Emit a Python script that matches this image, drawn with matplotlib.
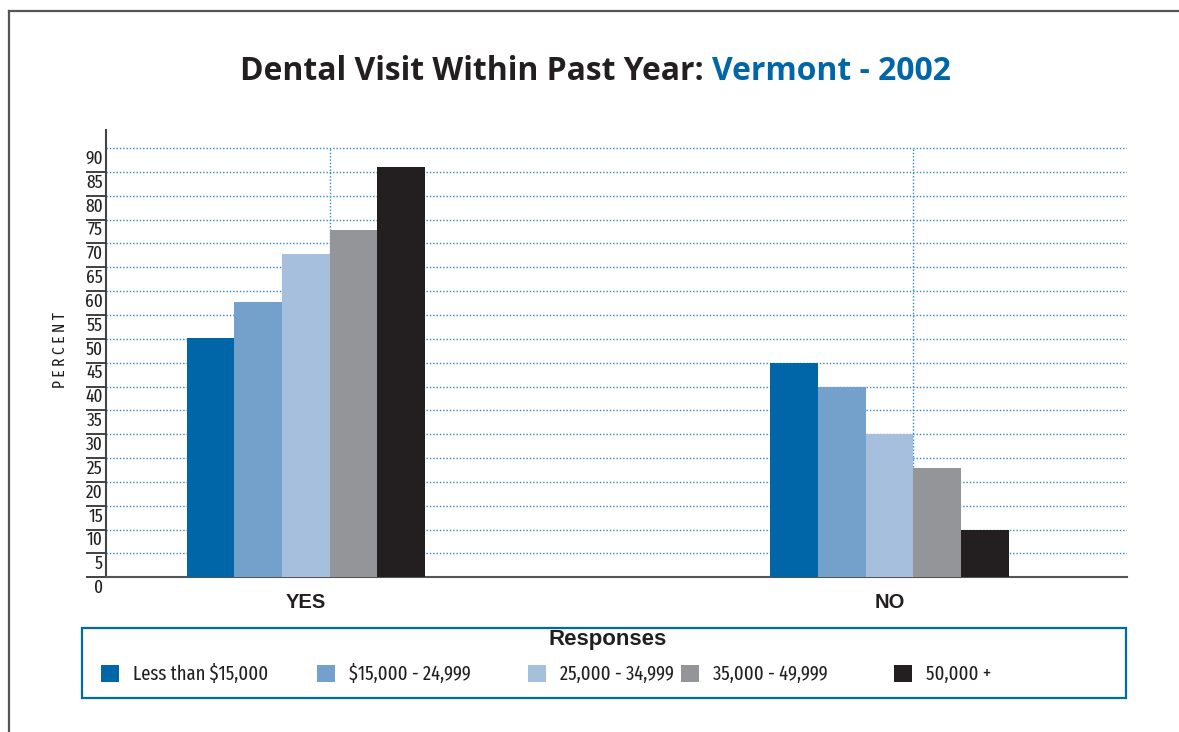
import matplotlib
matplotlib.use("Agg")
import matplotlib.pyplot as plt
from matplotlib import font_manager as fm
from matplotlib.patches import Rectangle
from matplotlib.lines import Line2D
from matplotlib.textpath import TextPath

# ---- data ----
responses = ["YES", "NO"]
income_groups = ["Less than $15,000", "$15,000 - 24,999", "25,000 - 34,999",
                 "35,000 - 49,999", "50,000 +"]
pct_less_15k = [50.2, 45.0]
pct_15_25k = [57.8, 40.0]
pct_25_35k = [67.8, 30.0]
pct_35_50k = [72.9, 23.0]
pct_50k_plus = [86.0, 10.0]
y_ticks = list(range(0, 95, 5))

series = [pct_less_15k, pct_15_25k, pct_25_35k, pct_35_50k, pct_50k_plus]
colors = ["#0066a8", "#74a0cc", "#a6bfdd", "#939598", "#231f20"]


# pick the regular face whose width-to-height ratio is closest to a
# condensed grotesque (about 6.5 em for "Less than $15,000")
def width_per_em(fname):
    try:
        p = fm.FontProperties(fname=fname)
        return TextPath((0, 0), "Less than $15,000", size=1, prop=p).get_extents().width
    except Exception:
        return None


best = None
for f in fm.fontManager.ttflist:
    tag = (f.name + " " + str(f.stretch) + " " + f.fname).lower()
    if f.style != "normal" or f.weight not in (400, "normal", "regular"):
        continue
    if not any(k in tag for k in ("condensed", "narrow", "compressed")):
        continue
    w = width_per_em(f.fname)
    if w is None:
        continue
    score = abs(w - 6.5)
    if best is None or score < best[0]:
        best = (score, f.fname)

if best is not None:
    def small_font(size):
        return fm.FontProperties(fname=best[1], size=size)
else:
    def small_font(size):
        return fm.FontProperties(family=["Liberation Sans", "DejaVu Sans"], size=size)

BOLD = ["Liberation Sans", "DejaVu Sans"]

W, H = 1179, 732
fig = plt.figure(figsize=(W / 100, H / 100), dpi=100)
renderer = fig.canvas.get_renderer()


def fx(px):
    return px / W


def fy(py):
    return 1 - py / H


def fit_size(text, width_px, props):
    # font size that makes `text` span width_px
    t = fig.text(0, 0, text, fontproperties=props)
    w = t.get_window_extent(renderer).width
    t.remove()
    return props.get_size() * width_px / w


SMALL = fit_size("Less than $15,000", 135, small_font(14))

# plot area: spine at x=105.7, right end 1127, zero line at y=577.3, top 130
ax = fig.add_axes([fx(105.7), fy(577.3), fx(1127) - fx(105.7), fy(130) - fy(577.3)])
ax.set_xlim(-0.343, 1.407)
ax.set_ylim(0, 93.8)

bar_w = 0.0816
for i, (vals, col) in enumerate(zip(series, colors)):
    xs = [g + (i - 2) * bar_w for g in range(len(responses))]
    ax.bar(xs, vals, width=bar_w, color=col, zorder=3, linewidth=0)

# dotted grid
grid_col = "#2f86c8"
ax.hlines(y_ticks[1:], -0.343, 1.407, colors=grid_col, linewidth=1.0,
          linestyles=(0, (1, 1.4)), zorder=1)
ax.vlines([g + bar_w / 2 for g in range(len(responses))], 0, y_ticks[-1],
          colors=grid_col, linewidth=1.0, linestyles=(0, (1, 1.4)), zorder=1)

for s in ["top", "right"]:
    ax.spines[s].set_visible(False)
ax.spines["left"].set_color("#444444")
ax.spines["left"].set_linewidth(1.5)
ax.spines["bottom"].set_color("#555555")
ax.spines["bottom"].set_linewidth(1.5)

# y ticks: short lines left of the spine, numbers sitting under them
ax.set_yticks(y_ticks[:-1])
ax.tick_params(axis="y", length=14.5, width=1.3, color="#333333", labelleft=False)
tick_size = fit_size("90", 17.5, small_font(14))
for v in y_ticks:
    ax.annotate(str(v), xy=(0, v), xycoords=("axes fraction", "data"),
                xytext=(-2.0, -7.6), textcoords="offset points",
                ha="right", va="center", color="#231f20",
                fontproperties=small_font(tick_size))

ax.set_xticks(range(len(responses)))
ax.set_xticklabels(responses, fontsize=14.5, fontweight="bold",
                   family=BOLD, color="#231f20")
ax.tick_params(axis="x", length=0, pad=11)

fig.text(fx(60), fy(350), "P E R C E N T", rotation=90, ha="center",
         va="center", color="#231f20",
         fontproperties=small_font(fit_size("P E R C E N T", 76, small_font(11))))

# outer frame (left and top edges)
fig.add_artist(Line2D([fx(8.5), fx(8.5)], [fy(732), fy(11)], color="#555555",
                      linewidth=1.6))
fig.add_artist(Line2D([fx(8.5), fx(1179)], [fy(11), fy(11)], color="#555555",
                      linewidth=1.6))

# two-tone title, fitted to its width
part1 = "Dental Visit Within Past Year: "
part2 = "Vermont - 2002"
title_font = ["Open Sans", "DejaVu Sans"]
t1 = fig.text(fx(240), fy(80), part1, ha="left", va="baseline", fontsize=20,
              fontweight="bold", color="#231f20", family=title_font)
t2 = fig.text(0, fy(80), part2, ha="left", va="baseline", fontsize=20,
              fontweight="bold", color="#0066a8", family=title_font)
w_total = (t1.get_window_extent(renderer).width
           + t2.get_window_extent(renderer).width)
size = 20 * 712 / w_total
t1.set_fontsize(size)
t2.set_fontsize(size)
w1 = t1.get_window_extent(renderer).width
t2.set_x(fx(240 + w1))

# legend box
fig.add_artist(Rectangle((fx(81.7), fy(697.7)), fx(1125.7) - fx(81.7),
                         fy(628.3) - fy(697.7), fill=False,
                         edgecolor="#0068ad", linewidth=1.6))
fig.text(fx(608), fy(640), "Responses", ha="center", va="center",
         fontsize=16, fontweight="bold", color="#231f20", family=BOLD)
swatch_x = [101, 317, 528, 681, 894]
for sx, lab, col in zip(swatch_x, income_groups, colors):
    fig.add_artist(Rectangle((fx(sx), fy(682)), fx(18), 17 / H,
                             facecolor=col, edgecolor="none"))
    fig.text(fx(sx + 32), fy(674), lab, ha="left", va="center",
             color="#231f20", fontproperties=small_font(SMALL))

fig.savefig("out.png", dpi=100)
